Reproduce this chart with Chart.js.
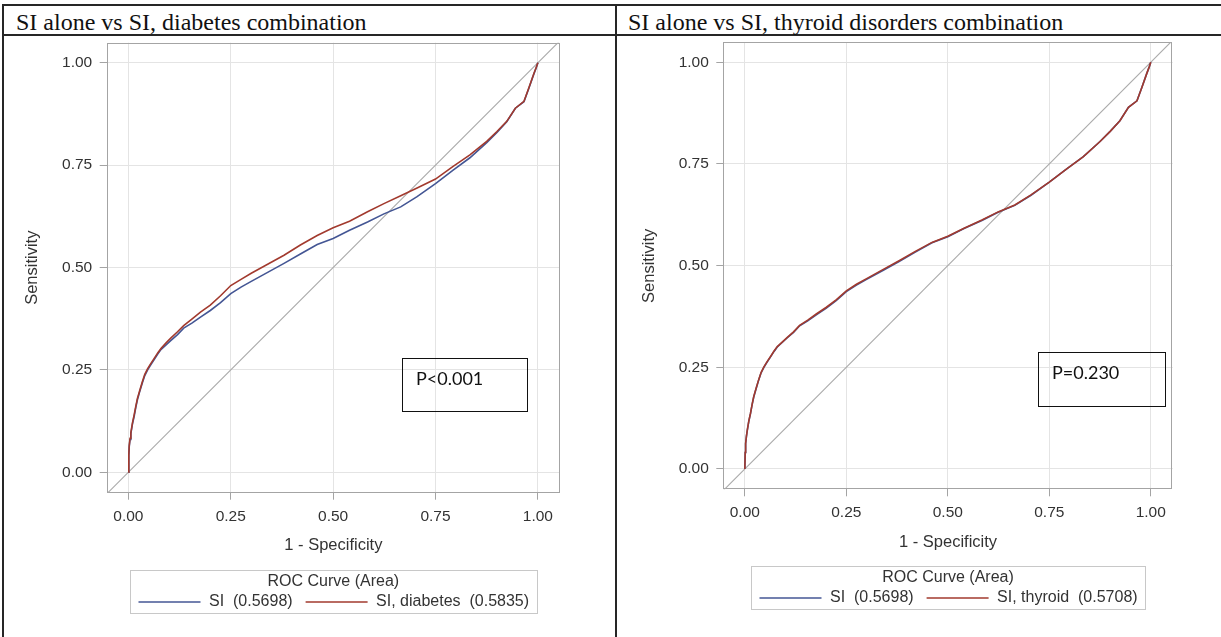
<!DOCTYPE html>
<html>
<head>
<meta charset="utf-8">
<script src="https://cdn.jsdelivr.net/npm/chart.js"></script>
<style>
  html, body { margin: 0; padding: 0; background: #fff; }
  body { width: 1221px; height: 637px; position: relative; overflow: hidden; }
  .rule { position: absolute; background: #262626; }
  .head { position: absolute; top: 10px; font: 24px/24px "Liberation Serif", "Times New Roman", serif; color: #111; white-space: nowrap; }
  .panel { position: absolute; top: 36px; }
  .pbox { position: absolute; border: 1.5px solid #111; box-sizing: border-box; font: 18px/18px "Lato", sans-serif; color: #111; }
  .pbox span { position: absolute; left: 13px; top: 10px; white-space: nowrap; }
</style>
</head>
<body>
<div class="rule" style="left:2px; top:4px; width:1219px; height:2px;"></div>
<div class="rule" style="left:2px; top:34px; width:1219px; height:2px;"></div>
<div class="rule" style="left:2px; top:4px; width:2px; height:633px;"></div>
<div class="rule" style="left:615px; top:4px; width:2px; height:633px;"></div>
<div class="head" style="left:16px;">SI alone vs SI, diabetes combination</div>
<div class="head" style="left:628px;">SI alone vs SI, thyroid disorders combination</div>

<canvas id="leftChart" class="panel" style="left:0px;" width="614" height="601"></canvas>
<canvas id="rightChart" class="panel" style="left:616px;" width="605" height="601"></canvas>

<div class="pbox" style="left:402px; top:358px; width:126px; height:54px;"><span>P&lt;0.001</span></div>
<div class="pbox" style="left:1038px; top:352px; width:128px; height:55px;"><span>P=0.230</span></div>

<script>
// ROC points (1 - specificity on x, sensitivity on y)
const fpr = [0, 0.001, 0.002, 0.004, 0.006, 0.010, 0.014, 0.018, 0.022, 0.028,
  0.034, 0.040, 0.047, 0.055, 0.063, 0.072, 0.080, 0.092, 0.104, 0.120,
  0.135, 0.155, 0.176, 0.200, 0.225, 0.250, 0.275, 0.300, 0.340, 0.380,
  0.420, 0.461, 0.500, 0.540, 0.584, 0.624, 0.665, 0.705, 0.750, 0.793,
  0.834, 0.875, 0.900, 0.924, 0.945, 0.966, 0.978, 0.990, 0.996, 1.000];
const tprSI = [0, 0.040, 0.062, 0.080, 0.094, 0.118, 0.136, 0.158, 0.177, 0.198,
  0.218, 0.236, 0.250, 0.263, 0.275, 0.289, 0.300, 0.311, 0.322, 0.336,
  0.352, 0.364, 0.379, 0.395, 0.414, 0.436, 0.452, 0.466, 0.488, 0.510,
  0.533, 0.556, 0.571, 0.591, 0.611, 0.631, 0.648, 0.673, 0.705, 0.738,
  0.768, 0.805, 0.830, 0.856, 0.889, 0.905, 0.938, 0.972, 0.988, 1.000];
const tprDiabetes = [0, 0.042, 0.065, 0.083, 0.097, 0.121, 0.140, 0.161, 0.180, 0.201,
  0.221, 0.239, 0.253, 0.266, 0.278, 0.292, 0.303, 0.316, 0.328, 0.343,
  0.358, 0.374, 0.391, 0.408, 0.431, 0.456, 0.471, 0.486, 0.508, 0.530,
  0.555, 0.578, 0.597, 0.613, 0.636, 0.656, 0.675, 0.694, 0.716, 0.747,
  0.775, 0.808, 0.832, 0.857, 0.889, 0.906, 0.939, 0.973, 0.989, 1.000];
const tprThyroid = [0, 0.041, 0.063, 0.081, 0.095, 0.119, 0.137, 0.159, 0.178, 0.199,
  0.219, 0.237, 0.251, 0.264, 0.276, 0.290, 0.301, 0.312, 0.323, 0.337,
  0.353, 0.366, 0.381, 0.397, 0.416, 0.438, 0.454, 0.468, 0.490, 0.512,
  0.535, 0.557, 0.572, 0.592, 0.612, 0.632, 0.649, 0.674, 0.705, 0.738,
  0.768, 0.805, 0.830, 0.856, 0.889, 0.905, 0.938, 0.972, 0.988, 1.000];
const refLine = [-0.1, 1.1];

const axisTicks = [0, 0.25, 0.5, 0.75, 1];
const tickLabels = ['0.00', '0.25', '0.50', '0.75', '1.00'];

const siLabel = 'SI  (0.5698)';
const diabetesLabel = 'SI, diabetes  (0.5835)';
const thyroidLabel = 'SI, thyroid  (0.5708)';
const legendTitle = 'ROC Curve (Area)';

const BLUE = '#445694';
const RED = '#a23a2e';
const SANS = '"Liberation Sans", Arial, sans-serif';

Chart.defaults.font.family = SANS;
Chart.defaults.color = '#333';

function points(ys) {
  return fpr.map((x, i) => ({ x, y: ys[i] }));
}

// grey frame round the plot area
const framePlugin = {
  id: 'frame',
  beforeDatasetsDraw(chart) {
    const { ctx, chartArea: ca } = chart;
    ctx.save();
    ctx.strokeStyle = '#a4a4a4';
    ctx.lineWidth = 1;
    ctx.strokeRect(Math.round(ca.left) + 0.5, Math.round(ca.top) + 0.5,
      Math.round(ca.right - ca.left) - 1, Math.round(ca.bottom - ca.top) - 1);
    ctx.restore();
  }
};

// boxed legend under the x axis title, like the SAS one
const rocLegend = {
  id: 'rocLegend',
  afterDraw(chart) {
    const { ctx, chartArea: ca } = chart;
    const items = chart.data.datasets.filter(d => d.inLegend);
    const pad = 8, lineLen = 62, gap = 8.5, sep = 13;
    ctx.save();
    ctx.font = '16px ' + SANS;
    const widths = items.map(d => ctx.measureText(d.label).width);
    const total = pad * 2 + items.length * (lineLen + gap) +
      widths.reduce((a, b) => a + b, 0) + sep * (items.length - 1);
    const cx = (ca.left + ca.right) / 2;
    const left = Math.round(cx - total / 2) + 0.5;
    const top = Math.round(ca.bottom + 77) + 0.5;
    ctx.strokeStyle = '#c8c8c8';
    ctx.lineWidth = 1;
    ctx.strokeRect(left, top, Math.round(total), 43);
    ctx.fillStyle = '#333';
    ctx.textBaseline = 'middle';
    ctx.textAlign = 'center';
    ctx.fillText(legendTitle, cx, top + 11.5);
    ctx.textAlign = 'left';
    let x = left + pad;
    const y = top + 31.5;
    items.forEach((d, i) => {
      ctx.strokeStyle = d.borderColor;
      ctx.lineWidth = 1.5;
      ctx.beginPath();
      ctx.moveTo(x, y);
      ctx.lineTo(x + lineLen, y);
      ctx.stroke();
      x += lineLen + gap;
      ctx.fillText(d.label, x, y);
      x += widths[i] + sep;
    });
    ctx.restore();
  }
};

function axis(title, fitSize, horizontal, min, max) {
  return {
    type: 'linear',
    min, max,
    afterBuildTicks: s => { s.ticks = axisTicks.map(v => ({ value: v })); },
    afterFit: s => {
      if (horizontal) s.height = fitSize; else s.width = fitSize;
      // tick labels sit well inside the plot, no extra room needed
      s.paddingTop = 0; s.paddingBottom = 0; s.paddingLeft = 0; s.paddingRight = 0;
    },
    grid: { color: '#e4e4e4', lineWidth: 1, tickLength: 7, tickColor: '#a4a4a4' },
    border: { display: false },
    ticks: {
      padding: 7.5,
      color: '#333',
      font: { size: 15.5 },
      callback: v => tickLabels[axisTicks.indexOf(v)]
    },
    title: { display: true, text: title, color: '#333', font: { size: 16.5 }, padding: 0 }
  };
}

function makeChart(id, comboTpr, comboLabel, g) {
  new Chart(document.getElementById(id), {
    type: 'scatter',
    data: {
      datasets: [
        { label: siLabel, inLegend: true, data: points(tprSI), showLine: true,
          borderColor: BLUE, borderWidth: 1.6, pointRadius: 0, order: 1 },
        { label: comboLabel, inLegend: true, data: points(comboTpr), showLine: true,
          borderColor: RED, borderWidth: 1.6, pointRadius: 0, order: 0 },
        { label: 'ref', data: refLine.map(v => ({ x: v, y: v })), showLine: true,
          borderColor: '#aaaaaa', borderWidth: 1.1, pointRadius: 0, order: 2, clip: 0 }
      ]
    },
    options: {
      responsive: false,
      animation: false,
      layout: { padding: g.padding },
      plugins: { legend: { display: false }, tooltip: { enabled: false } },
      scales: {
        x: axis('1 - Specificity', g.xHeight, true, -0.053, 1.054),
        y: axis('Sensitivity', g.yWidth, false, -0.05, 1.049)
      }
    },
    plugins: [framePlugin, rocLegend]
  });
}

makeChart('leftChart', tprDiabetes, diabetesLabel, {
  padding: { left: 23, right: 54, top: 6.7, bottom: 81.2 },
  yWidth: 83.7, xHeight: 63.1
});
makeChart('rightChart', tprThyroid, thyroidLabel, {
  padding: { left: 23.4, right: 48.3, top: 6.3, bottom: 84.9 },
  yWidth: 83.9, xHeight: 62.8
});
</script>
</body>
</html>
